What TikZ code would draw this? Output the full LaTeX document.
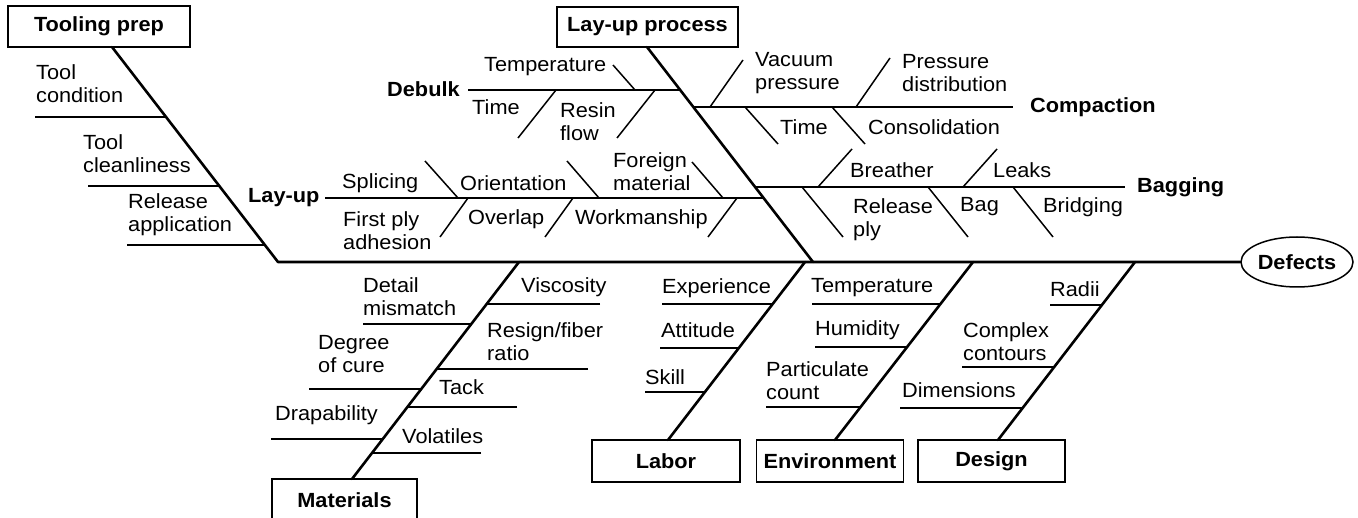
\documentclass[tikz,border=0pt]{standalone}
\usepackage{fontspec}
\setmainfont[FakeStretch=1.06]{Liberation Sans}
\usetikzlibrary{shapes.geometric}

\begin{document}
\begin{tikzpicture}[x=1pt, y=-1pt,
  bone/.style={line width=2.6pt, line cap=round, line join=round},
  rib/.style={line width=1.8pt},
  twig/.style={line width=1.5pt},
  catbox/.style={draw, line width=1.5pt, inner sep=0pt, font=\fontsize{20.5}{23}\selectfont\bfseries},
  lbl/.style={anchor=west, inner sep=0pt, align=left, font=\fontsize{20.5}{23}\selectfont},
  head/.style={anchor=west, inner sep=0pt, font=\fontsize{20.5}{23}\selectfont\bfseries},
]
\useasboundingbox (0,0) rectangle (1358,518);
\clip (0,0) rectangle (1358,518);

% a short line between two named coordinates
\newcommand\fbtwig[4][twig]{%
  \coordinate (#2a) at #3; \coordinate (#2b) at #4;
  \draw[#1] (#2a) -- (#2b);}

% ---------------- category boxes and the effect ----------------
\node[catbox, minimum width=182pt, minimum height=41pt] (tooling) at (99,26.5) {Tooling prep};
\node[catbox, minimum width=181pt, minimum height=40pt] (layproc) at (647.5,27) {Lay-up process};
\node[catbox, minimum width=145pt, minimum height=42pt] (materials) at (344.5,500) {Materials};
\node[catbox, minimum width=148pt, minimum height=42pt] (labor) at (666,461) {Labor};
\node[catbox, minimum width=147pt, minimum height=42pt] (environment) at (830,461) {Environment};
\node[catbox, minimum width=147pt, minimum height=42pt] (design) at (991.5,461) {Design};
\node[draw, ellipse, line width=1.5pt, inner sep=0pt, minimum width=112pt, minimum height=50pt,
      font=\fontsize{20.5}{23}\selectfont\bfseries] (defects) at (1297,262) {Defects};

% ---------------- spine and main bones ----------------
\coordinate (tpTop) at (112,47);
\coordinate (tail) at (278,262);
\draw[bone] (tpTop) -- (tail) -- (defects.west);

\coordinate (lpTop) at (647,47);  \coordinate (lpBot) at (813,262);
\draw[bone] (lpTop) -- (lpBot);
\coordinate (maTop) at (352,479); \coordinate (maBot) at (519,262);
\draw[bone] (maTop) -- (maBot);
\coordinate (laTop) at (668,440); \coordinate (laBot) at (805,262);
\draw[bone] (laTop) -- (laBot);
\coordinate (enTop) at (835,440); \coordinate (enBot) at (973,262);
\draw[bone] (enTop) -- (enBot);
\coordinate (deTop) at (998,440); \coordinate (deBot) at (1135,262);
\draw[bone] (deTop) -- (deBot);

% ---------------- Tooling prep ----------------
\node[lbl] (tcond) at (36,83.5) {Tool\\condition};
\node[lbl] (tclean) at (83,153.5) {Tool\\cleanliness};
\node[lbl] (trel) at (128,214.5) {Release\\application};
\fbtwig{tc}{(35,117)}{(166,117)}
\fbtwig{tl}{(88,186)}{(219,186)}
\fbtwig{tr}{(127,245)}{(265,245)}

% ---------------- Lay-up process: Debulk ----------------
\node[head] (debulk) at (387,89) {Debulk};
\fbtwig[rib]{db}{(468,90)}{(680,90)}
\node[lbl] (dtemp) at (484,67) {Temperature};
\node[lbl] (dtime) at (472,107) {Time};
\node[lbl] (dresin) at (560,121.5) {Resin\\flow};
\fbtwig{dt}{(613,65)}{(635,90)}
\fbtwig{dm}{(518,138)}{(556,90)}
\fbtwig{dr}{(617,138)}{(655,90)}

% ---------------- Lay-up process: Compaction ----------------
\node[head] (compaction) at (1030,107) {Compaction};
\fbtwig[rib]{cp}{(693,107)}{(1013,107)}
\node[lbl] (cvac) at (755,73.5) {Vacuum\\pressure};
\node[lbl] (cdist) at (902,73) {Pressure\\distribution};
\node[lbl] (ctime) at (780,127) {Time};
\node[lbl] (ccons) at (868,127) {Consolidation};
\fbtwig{cv}{(710,107)}{(743,60)}
\fbtwig{cd}{(856,107)}{(890,58)}
\fbtwig{ct}{(745,107)}{(778,144)}
\fbtwig{cc}{(832,107)}{(865,144)}

% ---------------- Lay-up process: Bagging ----------------
\node[head] (bagging) at (1137,187) {Bagging};
\fbtwig[rib]{bg}{(755,187)}{(1125,187)}
\node[lbl] (bbreath) at (850,170) {Breather};
\node[lbl] (bleaks) at (993,170) {Leaks};
\node[lbl] (brel) at (853,220) {Release\\ply};
\node[lbl] (bbag) at (960,207) {Bag};
\node[lbl] (bbridge) at (1043,207) {Bridging};
\fbtwig{bb}{(818,187)}{(852,149)}
\fbtwig{bl}{(963,187)}{(997,149)}
\fbtwig{br}{(802,187)}{(843,237)}
\fbtwig{ba}{(928,187)}{(968,237)}
\fbtwig{bi}{(1013,187)}{(1053,237)}

% ---------------- Lay-up process: Lay-up ----------------
\node[head] (layup) at (248,198) {Lay-up};
\fbtwig[rib]{lu}{(325,198)}{(764,198)}
\node[lbl] (lsplice) at (342,183) {Splicing};
\node[lbl] (lorient) at (460,183) {Orientation};
\node[lbl] (lforeign) at (613,171.5) {Foreign\\material};
\node[lbl] (lfirst) at (343,231) {First ply\\adhesion};
\node[lbl] (loverlap) at (468,219) {Overlap};
\node[lbl] (lwork) at (575,219) {Workmanship};
\fbtwig{ls}{(425,161)}{(458,198)}
\fbtwig{lo}{(567,161)}{(599,198)}
\fbtwig{lf}{(692,162)}{(723,198)}
\fbtwig{la}{(440,237)}{(468,198)}
\fbtwig{lv}{(545,237)}{(573,198)}
\fbtwig{lw}{(708,237)}{(737,198)}

% ---------------- Materials ----------------
\node[lbl] (mdetail) at (363,296.5) {Detail\\mismatch};
\node[lbl] (mdegree) at (318,354.5) {Degree\\of cure};
\node[lbl] (mdrape) at (275,415) {Drapability};
\node[lbl] (mvisc) at (521,287) {Viscosity};
\node[lbl] (mresin) at (487,342) {Resign/fiber\\ratio};
\node[lbl] (mtack) at (439,387) {Tack};
\node[lbl] (mvol) at (402,436) {Volatiles};
\fbtwig{md}{(363,324)}{(471,324)}
\fbtwig{mg}{(309,389)}{(421,389)}
\fbtwig{mp}{(271,439)}{(383,439)}
\fbtwig{mv}{(600,304)}{(487,304)}
\fbtwig{mr}{(588,369)}{(437,369)}
\fbtwig{mt}{(517,407)}{(407,407)}
\fbtwig{mo}{(481,453)}{(372,453)}

% ---------------- Labor ----------------
\node[lbl] (lexp) at (662,288) {Experience};
\node[lbl] (latt) at (661,330) {Attitude};
\node[lbl] (lskill) at (645,377) {Skill};
\fbtwig{xe}{(662,304)}{(773,304)}
\fbtwig{xa}{(660,348)}{(739,348)}
\fbtwig{xs}{(645,392)}{(705,392)}

% ---------------- Environment ----------------
\node[lbl] (etemp) at (811,288) {Temperature};
\node[lbl] (ehum) at (815,330) {Humidity};
\node[lbl] (epart) at (766,380.5) {Particulate\\count};
\fbtwig{et}{(812,304)}{(940,304)}
\fbtwig{eh}{(815,347)}{(907,347)}
\fbtwig{ep}{(766,407)}{(861,407)}

% ---------------- Design ----------------
\node[lbl] (gradii) at (1050,289) {Radii};
\node[lbl] (gcomplex) at (963,342) {Complex\\contours};
\node[lbl] (gdim) at (902,390) {Dimensions};
\fbtwig{gr}{(1050,305)}{(1102,305)}
\fbtwig{gc}{(962,367)}{(1054,367)}
\fbtwig{gd}{(900,408)}{(1023,408)}
\end{tikzpicture}
\end{document}
